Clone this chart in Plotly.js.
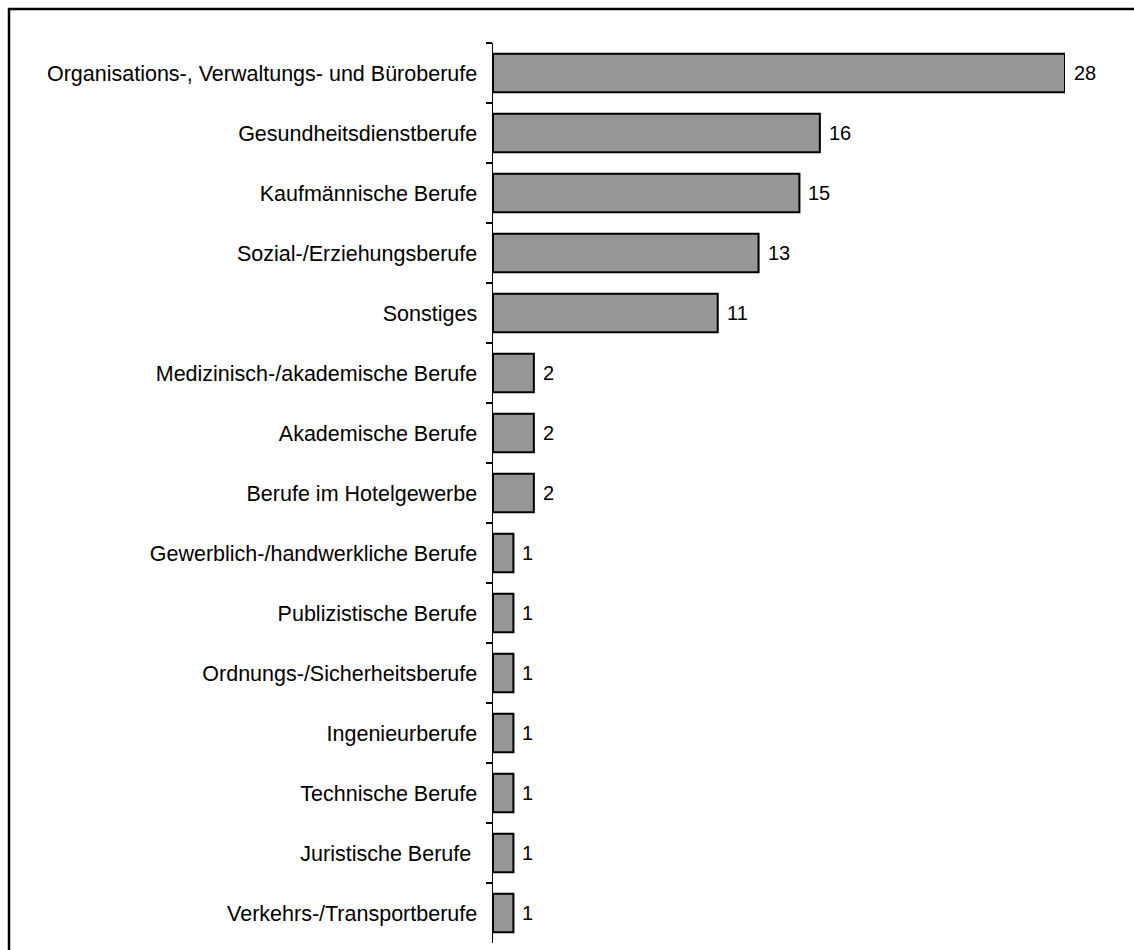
<!DOCTYPE html>
<html><head><meta charset="utf-8">
<script src="https://cdn.plot.ly/plotly-3.0.1.min.js"></script>
<style>html,body{margin:0;padding:0;background:#fff}#c{width:1134px;height:950px}</style>
</head><body><div id="c"></div>
<script>
const categories = [
  "Organisations-, Verwaltungs- und Büroberufe",
  "Gesundheitsdienstberufe",
  "Kaufmännische Berufe",
  "Sozial-/Erziehungsberufe",
  "Sonstiges",
  "Medizinisch-/akademische Berufe",
  "Akademische Berufe",
  "Berufe im Hotelgewerbe",
  "Gewerblich-/handwerkliche Berufe",
  "Publizistische Berufe",
  "Ordnungs-/Sicherheitsberufe",
  "Ingenieurberufe",
  "Technische Berufe",
  "Juristische Berufe\u00a0",
  "Verkehrs-/Transportberufe"
];
const values = [28, 16, 15, 13, 11, 2, 2, 2, 1, 1, 1, 1, 1, 1, 1];

const FONT = 'Liberation Sans, Arial, sans-serif';

const trace = {
  type: 'bar', orientation: 'h',
  x: values, y: categories,
  marker: {color: '#969696', line: {color: '#000', width: 2}},
  width: 0.64,
  hoverinfo: 'none'
};

const annotations = values.map((v, i) => ({
  x: v, y: categories[i], xref: 'x', yref: 'y',
  text: String(v), showarrow: false, xanchor: 'left', xshift: 7,
  font: {family: FONT, size: 20, color: '#000'}
}));

const layout = {
  width: 1134, height: 950,
  margin: {l: 493, r: 69, t: 43, b: 7},
  paper_bgcolor: '#fff', plot_bgcolor: '#fff',
  showlegend: false,
  font: {family: FONT, size: 21.5, color: '#000'},
  xaxis: {range: [0, 28], showgrid: false, zeroline: false, showline: false,
          showticklabels: false, ticks: '', fixedrange: true},
  yaxis: {type: 'category', autorange: 'reversed', showgrid: false, zeroline: false,
          showline: true, linecolor: '#000', linewidth: 1.5,
          ticks: 'outside', tickson: 'boundaries', ticklen: 6, tickcolor: '#000', tickwidth: 1.5,
          ticklabelstandoff: 10,
          tickfont: {family: FONT, size: 21.5, color: '#000'}},
  annotations: annotations,
  shapes: [{type: 'rect', xref: 'paper', yref: 'paper',
            x0: -484/572, x1: 1.3, y0: -0.1, y1: 1 + 34/900,
            line: {color: '#000', width: 2.5}, fillcolor: 'rgba(0,0,0,0)', layer: 'above'}]
};

Plotly.newPlot('c', [trace], layout, {displayModeBar: false, staticPlot: true});
</script></body></html>
